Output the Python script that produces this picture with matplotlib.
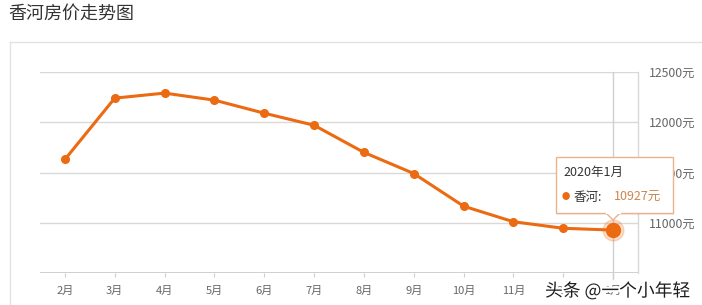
import matplotlib
matplotlib.use("Agg")
import matplotlib.pyplot as plt
import matplotlib.patheffects as pe
from matplotlib.patches import Rectangle, Polygon
from matplotlib.lines import Line2D

plt.rcParams['font.family'] = ['Noto Sans CJK SC', 'DejaVu Sans']

# data
months = ['2月', '3月', '4月', '5月', '6月', '7月', '8月', '9月', '10月', '11月', '12月', '1月']
prices = [11630, 12240, 12290, 12220, 12090, 11970, 11700, 11490, 11165, 11010, 10945, 10927]
y_ticks = [11000, 11500, 12000, 12500]
title = '香河房价走势图'
series_name = '香河'
tip_title = '2020年1月'

W, H = 702, 305
LINE = '#eb6a12'
GRID = '#d9d9d9'
TXT = '#666666'


def fx(x):
    return x / W


def fy(y):
    return 1 - y / H


fig = plt.figure(figsize=(W / 100, H / 100), dpi=100)

# outer panel border
fig.add_artist(Line2D([fx(10), 1], [fy(42), fy(42)], color='#e3e3e3', lw=1))
fig.add_artist(Line2D([fx(10), fx(10)], [fy(42), 0], color='#e3e3e3', lw=1))

fig.text(fx(8), fy(14), title, fontsize=13, color='#333333', va='center', ha='left')

ax = fig.add_axes([fx(40), fy(273), fx(638) - fx(40), fy(72) - fy(273)])
x = list(range(len(months)))
ax.set_xlim(-0.5, len(months) - 0.5)
ax.set_ylim(10500, 12500)

for v in y_ticks:
    ax.axhline(v, color=GRID, lw=1, zorder=0)
ax.axhline(10500, color='#cccccc', lw=2, zorder=1)

for s in ['left', 'top', 'bottom']:
    ax.spines[s].set_visible(False)
ax.spines['right'].set_color(GRID)
ax.spines['right'].set_linewidth(1)

ax.set_xticks(x)
ax.set_xticklabels(months, fontsize=8, color=TXT)
ax.tick_params(axis='x', length=3, color='#cccccc', pad=6)
ax.yaxis.tick_right()
ax.set_yticks(y_ticks)
ax.set_yticklabels([f'{v}元' for v in y_ticks], fontsize=8.8, color=TXT)
ax.tick_params(axis='y', length=0, pad=8)

# crosshair at the hovered point
ax.plot([x[-1], x[-1]], [10440, 12500], color='#cfcfcf', lw=1, zorder=1, clip_on=False)

ax.plot(x, prices, color=LINE, lw=2.2, marker='o', markersize=5.5, zorder=3, clip_on=False)
ax.plot(x[-1], prices[-1], 'o', color=LINE, markersize=15, alpha=0.22, zorder=3, clip_on=False)
ax.plot(x[-1], prices[-1], 'o', color=LINE, markersize=10, zorder=4, clip_on=False)

# tooltip
box_l, box_t, box_r, box_b = 556, 157, 673, 213
fig.add_artist(Rectangle((fx(box_l) + 0.002, fy(box_b) - 0.006), fx(box_r) - fx(box_l), fy(box_t) - fy(box_b),
                         facecolor='#000000', alpha=0.06, edgecolor='none', zorder=9))
fig.add_artist(Rectangle((fx(box_l), fy(box_b)), fx(box_r) - fx(box_l), fy(box_t) - fy(box_b),
                         facecolor='white', edgecolor='#e9b48c', lw=1, zorder=10))
fig.add_artist(Polygon([[fx(606), fy(box_b)], [fx(613), fy(220)], [fx(620), fy(box_b)]],
                       closed=False, facecolor='white', edgecolor='#e9b48c', lw=1, zorder=11))
fig.add_artist(Line2D([fx(606.5), fx(619.5)], [fy(box_b), fy(box_b)], color='white', lw=1.5, zorder=12))
fig.text(fx(563), fy(172), tip_title, fontsize=9, color='#333333', va='center', zorder=13)
fig.text(fx(566), fy(197), '●', fontsize=6, color=LINE, va='center', ha='center', zorder=13)
fig.text(fx(573), fy(197), f'{series_name}:', fontsize=9, color='#333333', va='center', zorder=13)
fig.text(fx(614), fy(197), f'{prices[-1]}元', fontsize=9, color='#c98650', va='center', zorder=13)

# watermark
fig.text(fx(545), fy(291), '头条 @一个小年轻', fontsize=12.8, color='#1e1e1e', va='center', zorder=14,
         path_effects=[pe.withStroke(linewidth=3, foreground='white')])

fig.savefig('out.png', dpi=100)
